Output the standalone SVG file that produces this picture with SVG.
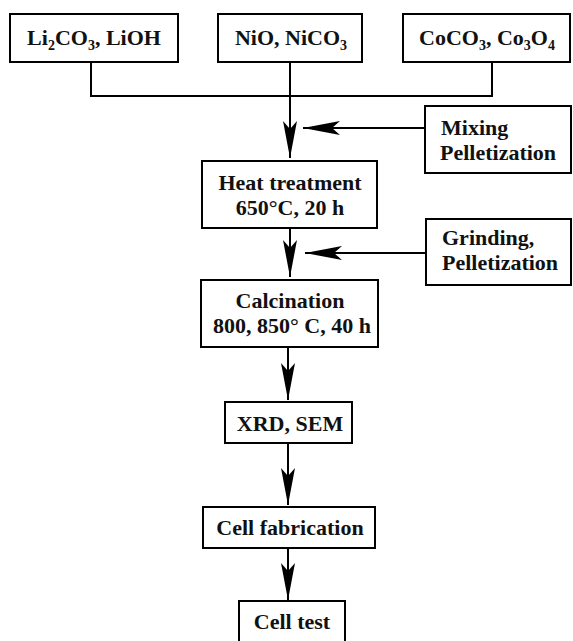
<svg xmlns="http://www.w3.org/2000/svg" width="573" height="641" viewBox="0 0 573 641">
<style>
.box{fill:#fff;stroke:#000;stroke-width:2}
.t{font-family:"Liberation Serif","Times New Roman",serif;font-weight:bold;font-size:22px;fill:#111}
.c{text-anchor:middle}
.sub{font-size:14px}
.ln{fill:none;stroke:#000;stroke-width:2}
</style>
<defs>
<marker id="ah" markerUnits="userSpaceOnUse" markerWidth="40" markerHeight="16" viewBox="0 0 40 16" refX="39" refY="8" orient="auto">
<path d="M39,8 L2,1 L10,8 L2,15 Z" fill="#000"/>
</marker>
</defs>
<g id="connectors">
<path class="ln" d="M91,62 V96 H492 V62"/>
<path class="ln" d="M290,62 V158" marker-end="url(#ah)"/>
<path class="ln" d="M425,128 H303" marker-end="url(#ah)"/>
<path class="ln" d="M290,228 V277" marker-end="url(#ah)"/>
<path class="ln" d="M426,253 H305" marker-end="url(#ah)"/>
<path class="ln" d="M288,347 V400" marker-end="url(#ah)"/>
<path class="ln" d="M288,443 V505" marker-end="url(#ah)"/>
<path class="ln" d="M288,548 V600" marker-end="url(#ah)"/>
</g>
<g id="n-li">
<rect class="box" x="10" y="14" width="168" height="48"/>
<text class="t c" x="94" y="45">Li<tspan class="sub" dy="5">2</tspan><tspan dy="-5">CO</tspan><tspan class="sub" dy="5">3</tspan><tspan dy="-5">, LiOH</tspan></text>
</g>
<g id="n-ni">
<rect class="box" x="218" y="14" width="144" height="48"/>
<text class="t c" x="291" y="45">NiO, NiCO<tspan class="sub" dy="5">3</tspan></text>
</g>
<g id="n-co">
<rect class="box" x="403" y="14" width="167" height="48"/>
<text class="t c" x="487" y="45">CoCO<tspan class="sub" dy="5">3</tspan><tspan dy="-5">, Co</tspan><tspan class="sub" dy="5">3</tspan><tspan dy="-5">O</tspan><tspan class="sub" dy="5">4</tspan></text>
</g>
<g id="n-mix">
<rect class="box" x="425" y="106" width="146" height="67"/>
<text class="t" x="441" y="135">Mixing</text>
<text class="t" x="440" y="160">Pelletization</text>
</g>
<g id="n-heat">
<rect class="box" x="202" y="161" width="175" height="67"/>
<text class="t c" x="290" y="190">Heat treatment</text>
<text class="t c" x="290" y="215">650°C, 20 h</text>
</g>
<g id="n-grind">
<rect class="box" x="426" y="219" width="145" height="66"/>
<text class="t" x="442" y="245">Grinding,</text>
<text class="t" x="442" y="270">Pelletization</text>
</g>
<g id="n-calc">
<rect class="box" x="201" y="280" width="177" height="67"/>
<text class="t c" x="290" y="308">Calcination</text>
<text class="t c" x="292" y="333">800, 850° C, 40 h</text>
</g>
<g id="n-xrd">
<rect class="box" x="225" y="402" width="127" height="41"/>
<text class="t c" x="290" y="431">XRD, SEM</text>
</g>
<g id="n-fab">
<rect class="box" x="203" y="507" width="172" height="41"/>
<text class="t c" x="290" y="535">Cell fabrication</text>
</g>
<g id="n-test">
<rect class="box" x="239" y="601" width="106" height="44"/>
<text class="t c" x="292" y="629">Cell test</text>
</g>
</svg>
